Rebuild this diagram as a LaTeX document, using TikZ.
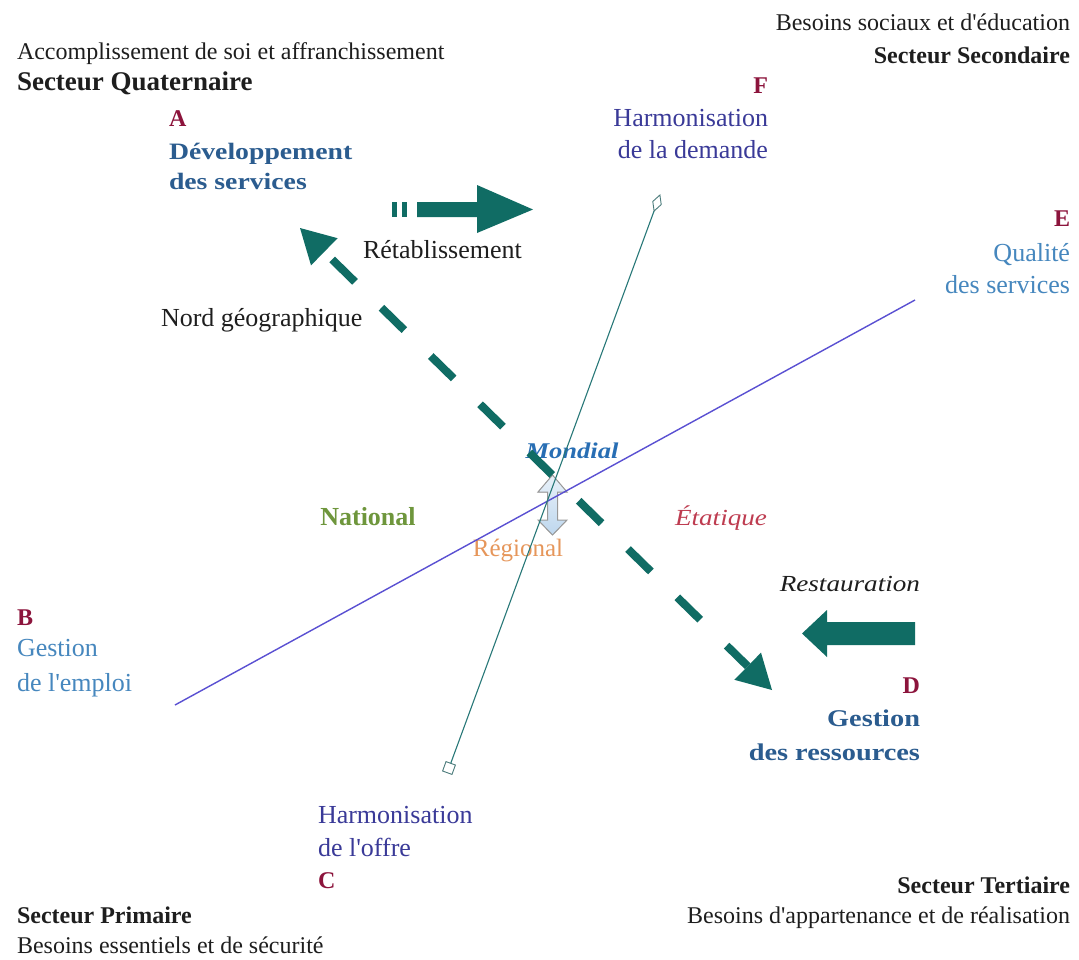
\documentclass[tikz,border=0pt]{standalone}
\usepackage{xcolor}
\usepackage{fontspec}
\setmainfont{Liberation Serif}
\newfontfamily\wideserif[FakeStretch=1.18]{Liberation Serif}
\usepackage{tikz}
\usetikzlibrary{arrows.meta,shapes.geometric}
\definecolor{inkblack}{RGB}{30,30,30}
\definecolor{letterred}{RGB}{140,20,60}
\definecolor{devblue}{RGB}{43,92,143}
\definecolor{softblue}{RGB}{70,135,190}
\definecolor{harmblue}{RGB}{58,58,152}
\definecolor{mondialblue}{RGB}{40,110,180}
\definecolor{natgreen}{RGB}{110,150,60}
\definecolor{regorange}{RGB}{230,150,90}
\definecolor{etatred}{RGB}{190,60,80}
\definecolor{arrowteal}{RGB}{16,108,100}
\definecolor{axisviolet}{RGB}{90,80,210}
\definecolor{axisteal}{RGB}{40,120,120}
\definecolor{scaleblue}{RGB}{190,215,238}

\begin{document}
\begin{tikzpicture}[x=1pt, y=-1pt,
        every node/.style={inner sep=0pt, outer sep=0pt},
        subtxt/.style={font=\fontsize{24}{28}\selectfont, text=inkblack},
        sectxt/.style={font=\fontsize{24}{30}\selectfont\bfseries, text=inkblack},
        lettxt/.style={font=\fontsize{24}{28}\selectfont\bfseries, text=letterred},
        lbltxt/.style={font=\fontsize{26}{30}\selectfont},
        widebold/.style={font=\wideserif\fontsize{24}{30}\selectfont\bfseries, text=devblue},
        wideit/.style={font=\wideserif\fontsize{23}{28}\selectfont\itshape},
        blockarrow/.style={fill=arrowteal},
        endmark/.style={draw=axisteal!60!gray, fill=white, line width=0.9pt, rotate=-20}]
        \fill[white] (0,0) rectangle (1079,959);
        \useasboundingbox (0,0) rectangle (1079,959);
        \node[subtxt, anchor=base west] (accomp) at (17,59) {Accomplissement de soi et affranchissement};
        \node[sectxt, font=\fontsize{27}{30}\selectfont\bfseries, anchor=base west] (quat) at (17,90)
        {Secteur Quaternaire};
        \node[lettxt, anchor=base west] (letA) at (169,126) {A};
        \node[widebold, font=\wideserif\fontsize{23.5}{30}\selectfont\bfseries, anchor=base west]
        (devA) at (169,159) {Développement};
        \node[widebold, font=\wideserif\fontsize{23.5}{30}\selectfont\bfseries, anchor=base west]
        (servA) at (169,189) {des services};
        \node[subtxt, anchor=base east] (besSoc) at (1070,30) {Besoins sociaux et d\textquotesingle éducation};
        \node[sectxt, anchor=base east] (second) at (1070,63) {Secteur Secondaire};
        \node[lettxt, anchor=base east] (letF) at (768,93) {F};
        \node[lbltxt, text=harmblue, anchor=base east] (harmF) at (768,126) {Harmonisation};
        \node[lbltxt, text=harmblue, anchor=base east] (demF) at (768,158) {de la demande};
        \node[lettxt, anchor=base east] (letE) at (1070,226) {E};
        \node[lbltxt, text=softblue, anchor=base east] (qualE) at (1070,261) {Qualité};
        \node[lbltxt, text=softblue, anchor=base east] (servE) at (1070,293) {des services};
        \node[lbltxt, text=inkblack, anchor=base west] (retab) at (363,258) {Rétablissement};
        \node[lbltxt, text=inkblack, anchor=base west] (nord) at (161,326) {Nord géographique};
        \node[font=\wideserif\fontsize{22.5}{28}\selectfont\bfseries\itshape, text=mondialblue,
        anchor=base] (mondial) at (572,458) {Mondial};
        \node[lbltxt, font=\fontsize{26}{30}\selectfont\bfseries, text=natgreen, anchor=base]
        (national) at (368,525) {National};
        \node[lbltxt, font=\fontsize{25}{30}\selectfont, text=regorange, anchor=base]
        (regional) at (518,556) {Régional};
        \node[wideit, text=etatred, anchor=base] (etat) at (721,525) {Étatique};
        \node[wideit, text=inkblack, anchor=base east] (restau) at (920,591) {Restauration};
        \node[lettxt, anchor=base west] (letB) at (17,625) {B};
        \node[lbltxt, text=softblue, anchor=base west] (gestB) at (17,656) {Gestion};
        \node[lbltxt, text=softblue, anchor=base west] (emplB) at (17,691) {de l\textquotesingle emploi};
        \node[lettxt, anchor=base east] (letD) at (920,693) {D};
        \node[widebold, anchor=base east] (gestD) at (920,726) {Gestion};
        \node[widebold, anchor=base east] (ressD) at (920,760) {des ressources};
        \node[lbltxt, text=harmblue, anchor=base west] (harmC) at (318,823) {Harmonisation};
        \node[lbltxt, text=harmblue, anchor=base west] (offC) at (318,856) {de l\textquotesingle offre};
        \node[lettxt, anchor=base west] (letC) at (318,888) {C};
        \node[sectxt, anchor=base east] (tert) at (1070,893) {Secteur Tertiaire};
        \node[subtxt, anchor=base east] (besApp) at (1070,923)
        {Besoins d\textquotesingle appartenance et de réalisation};
        \node[sectxt, anchor=base west] (prim) at (17,923) {Secteur Primaire};
        \node[subtxt, anchor=base west] (besEss) at (17,953) {Besoins essentiels et de sécurité};
        \filldraw[top color=scaleblue!35, bottom color=scaleblue, draw=gray!80, line width=1pt]
        (552.5,475) -- (567,492) -- (557.5,492) -- (557.5,520) -- (567,520) -- (552.5,535)
        -- (538,520) -- (547.5,520) -- (547.5,492) -- (538,492) -- cycle;
        \coordinate (endB) at (175,705);
        \coordinate (endE) at (915,300);
        \node[endmark, diamond, minimum width=9pt, minimum height=17pt] (endF) at (657,203) {};
        \node[endmark, rectangle, minimum size=10pt] (endC) at (449,768) {};
        \draw[axisviolet, line width=1.4pt] (endB) -- (endE);
        \draw[axisteal, line width=1.1pt] (endC) -- (endF);
        \coordinate (tipA) at (300,228);
        \coordinate (tipD) at (772,690);
        \draw[arrowteal, line width=8pt, dash pattern=on 32pt off 37pt, dash phase=58pt,
        {Triangle[length=34pt,width=38pt,line width=0pt]}-{Triangle[length=34pt,width=38pt,line width=0pt]}]
        (tipA) -- (tipD);
        \foreach \x in {392,402}
        \fill[blockarrow] (\x,202) rectangle ++(5,15);
        \fill[blockarrow] (417,202) -- (477,202) -- (477,185) -- (533,209.5) -- (477,233)
        -- (477,217) -- (417,217) -- cycle;
        \fill[blockarrow] (915,622) -- (827,622) -- (827,610) -- (802,633.5) -- (827,657)
        -- (827,645) -- (915,645) -- cycle;
\end{tikzpicture}
\end{document}
